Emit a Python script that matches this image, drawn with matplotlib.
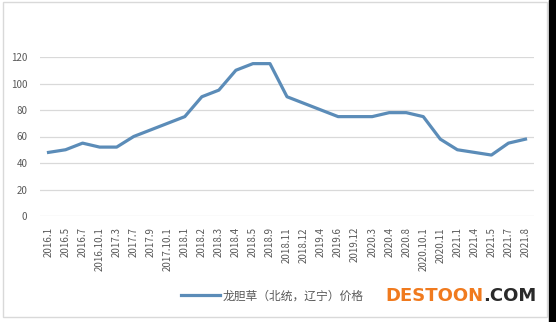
import matplotlib
matplotlib.use("Agg")
import matplotlib.pyplot as plt
from matplotlib.patches import Rectangle

plt.rcParams["font.family"] = ["Noto Sans CJK SC", "DejaVu Sans"]

# 时间点（横轴标签）
periods = [
    "2016.1", "2016.5", "2016.7", "2016.10.1", "2017.3", "2017.7",
    "2017.9", "2017.10.1", "2018.1", "2018.2", "2018.3", "2018.4",
    "2018.5", "2018.9", "2018.11", "2018.12", "2019.4", "2019.6",
    "2019.12", "2020.3", "2020.4", "2020.8", "2020.10.1", "2020.11",
    "2021.1", "2021.4", "2021.5", "2021.7", "2021.8",
]
# 龙胆草（北统，辽宁）价格
prices = [
    48, 50, 55, 52, 52, 60, 65, 70, 75, 90, 95, 110, 115, 115,
    90, 85, 80, 75, 75, 75, 78, 78, 75, 58, 50, 48, 46, 55, 58,
]
y_ticks = [0, 20, 40, 60, 80, 100, 120]
series_name = "龙胆草（北统，辽宁）价格"

W, H = 556, 322
fig = plt.figure(figsize=(W / 100, H / 100), dpi=100)
fig.patch.set_facecolor("white")

# chart frame and dark strip on the right edge
fig.add_artist(Rectangle((3 / W, 1 - 317 / H), 544 / W, 315 / H,
                         transform=fig.transFigure, fill=False,
                         edgecolor="#d9d9d9", linewidth=1))
fig.add_artist(Rectangle((549 / W, 0), 7 / W, 1,
                         transform=fig.transFigure, color="black"))

ax = fig.add_axes([40 / W, 106 / H, 494 / W, 159 / H])
x = list(range(len(periods)))
line, = ax.plot(x, prices, color="#5b8cb8", linewidth=2.3,
                solid_joinstyle="round", label=series_name, zorder=3)

ax.set_xlim(-0.5, len(periods) - 0.5)
ax.set_ylim(0, 120)
ax.set_yticks(y_ticks)
ax.set_xticks(x)
ax.set_xticklabels(periods, rotation=90)
ax.tick_params(axis="both", length=0, colors="#595959", labelsize=7)
ax.tick_params(axis="y", pad=9)
ax.tick_params(axis="x", pad=8)
ax.grid(axis="y", color="#d9d9d9", linewidth=0.9)
ax.set_axisbelow(True)
for side in ax.spines.values():
    side.set_visible(False)

fig.legend(handles=[line], loc="center", bbox_to_anchor=(272 / W, 1 - 296 / H),
           frameon=False, fontsize=8.5, handlelength=3.3, handletextpad=0.2,
           labelcolor="#595959")

# watermark
base_y = 1 - 301 / H
t1 = fig.text(385 / W, base_y, "DESTOON", color="#f07a1e",
              fontsize=13, fontweight="bold", family="DejaVu Sans",
              va="baseline", ha="left")
fig.canvas.draw()
bb = t1.get_window_extent()
fig.text(bb.x1 / W, base_y, ".COM", color="#2a2a2a", fontsize=13,
         fontweight="bold", family="DejaVu Sans", va="baseline", ha="left")

fig.savefig("out.png", dpi=100)
